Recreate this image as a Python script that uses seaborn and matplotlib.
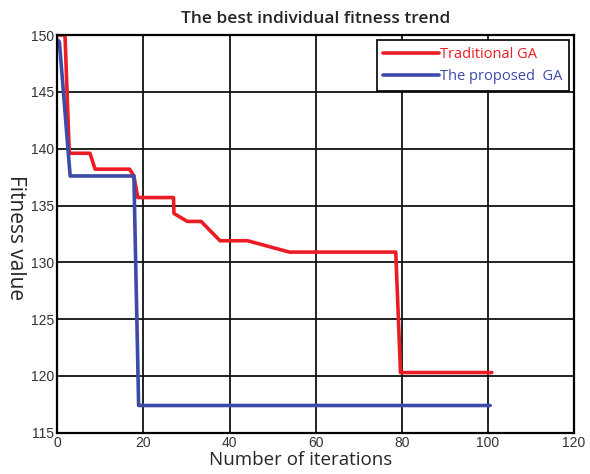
import matplotlib
matplotlib.use("Agg")
import matplotlib.pyplot as plt
import seaborn as sns
import pandas as pd

# Data
ga_iter = [0, 1.8, 2.8, 7.6, 8.8, 16.8, 17.8, 18.7, 27, 27.1, 30.2, 33.4, 37.8, 44.2, 53.9, 78.6, 79.7, 100.9]
ga_fit = [150, 150, 139.6, 139.6, 138.2, 138.2, 137.6, 135.7, 135.7, 134.3, 133.6, 133.6, 131.9, 131.9, 130.9, 130.9, 120.3, 120.3]
pga_iter = [0, 0.5, 3.0, 17.8, 18.9, 100.5]
pga_fit = [149.6, 149.4, 137.6, 137.6, 117.4, 117.4]
labels = ["Traditional GA", "The proposed  GA"]
xticks = [0, 20, 40, 60, 80, 100, 120]
yticks = [115, 120, 125, 130, 135, 140, 145, 150]

df = pd.concat([
    pd.DataFrame({"iter": ga_iter, "fit": ga_fit, "alg": labels[0], "ord": range(len(ga_iter))}),
    pd.DataFrame({"iter": pga_iter, "fit": pga_fit, "alg": labels[1], "ord": range(len(pga_iter))}),
])

sns.set_style("white")
plt.rcParams["font.family"] = ["Liberation Sans", "DejaVu Sans"]

fig = plt.figure(figsize=(5.9, 4.74), dpi=100)
ax = fig.add_axes([0.097, 0.087, 0.876, 0.839])

palette = {labels[0]: "#ec1c24", labels[1]: "#3c4aa8"}
sns.lineplot(data=df, x="iter", y="fit", hue="alg", units="alg", estimator=None,
             sort=False, palette=palette, linewidth=2.6, ax=ax, legend=True)

ax.set_xlim(0, 120)
ax.set_ylim(115, 150)
ax.set_xticks(xticks)
ax.set_yticks(yticks)
ax.tick_params(axis="both", direction="in", length=3, colors="#000000",
               labelcolor="#333333", labelsize=10, pad=2)
ax.grid(True, color="#111111", linewidth=1.3)
for s in ax.spines.values():
    s.set_color("black")
    s.set_linewidth(1.6)

ax.set_xlabel("Number of iterations", fontsize=13.5, family=["Open Sans", "DejaVu Sans"],
              va="top")
ax.xaxis.set_label_coords(0.47, -0.046)
ax.set_ylabel("Fitness value", fontsize=15, family=["Open Sans", "DejaVu Sans"],
              rotation=270, va="center", ha="center")
ax.yaxis.set_label_coords(-0.08, 0.49)
ax.set_title("The best individual fitness trend", fontsize=12.5, family=["Open Sans", "DejaVu Sans"],
             fontweight="semibold", pad=9)

leg = ax.legend(loc="upper right", frameon=True, fancybox=False,
                handlelength=3.8, handletextpad=0.1, borderpad=0.45,
                labelcolor="linecolor", borderaxespad=0.35,
                prop={"family": ["Open Sans", "DejaVu Sans"], "size": 10.5})
leg.get_frame().set_edgecolor("black")
leg.get_frame().set_linewidth(1.2)
leg.get_frame().set_alpha(1)

fig.savefig("out.png", dpi=100)
